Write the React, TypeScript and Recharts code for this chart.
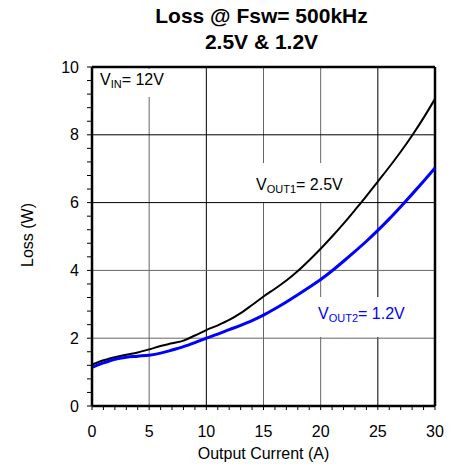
import { LineChart, Line, XAxis, YAxis, ReferenceLine } from "recharts";

// Output current (A)
const current = [
  0, 1, 2, 3, 4, 5, 6, 7, 8, 9, 10, 11, 12, 13, 14, 15, 16, 17, 18, 19, 20,
  21, 22, 23, 24, 25, 26, 27, 28, 29, 30,
];
// Loss (W), Vout1 = 2.5V
const lossVout1 = [
  1.22, 1.35, 1.44, 1.51, 1.58, 1.67, 1.77, 1.85, 1.93, 2.08, 2.24, 2.38, 2.54,
  2.74, 2.98, 3.23, 3.46, 3.7, 3.98, 4.3, 4.64, 5.0, 5.38, 5.78, 6.19, 6.62,
  7.05, 7.5, 7.98, 8.5, 9.06,
];
// Loss (W), Vout2 = 1.2V
const lossVout2 = [
  1.14, 1.27, 1.38, 1.44, 1.47, 1.5, 1.56, 1.65, 1.75, 1.87, 2.0, 2.12, 2.25,
  2.38, 2.52, 2.68, 2.87, 3.07, 3.28, 3.5, 3.73, 3.99, 4.27, 4.56, 4.86, 5.18,
  5.52, 5.88, 6.25, 6.63, 7.02,
];

const xTicks = [
  0, 1, 2, 3, 4, 5, 6, 7, 8, 9, 10, 11, 12, 13, 14, 15, 16, 17, 18, 19, 20,
  21, 22, 23, 24, 25, 26, 27, 28, 29, 30,
];
const xLabels = [0, 5, 10, 15, 20, 25, 30];
const yTicks = [
  0, 0.4, 0.8, 1.2, 1.6, 2, 2.4, 2.8, 3.2, 3.6, 4, 4.4, 4.8, 5.2, 5.6, 6, 6.4,
  6.8, 7.2, 7.6, 8, 8.4, 8.8, 9.2, 9.6, 10,
];
const yLabels = [0, 2, 4, 6, 8, 10];
const xGrid = [5, 10, 15, 20, 25];
const xGridColor = ["#666", "#000", "#666", "#666", "#000"];
const yGrid = [2, 4, 6, 8];
const yGridColor = ["#666", "#666", "#000", "#000"];

const data = current.map((c, i) => ({
  current: c,
  v1: lossVout1[i],
  v2: lossVout2[i],
}));

const FONT = "Arial, 'Liberation Sans', sans-serif";

const YTick = (props: any) => {
  const { x, y, payload } = props;
  const show = yLabels.includes(payload.value);
  return (
    <g>
      <line x1={x - 5} x2={x} y1={y} y2={y} stroke="#000" strokeWidth={1} />
      {show && (
        <text x={x - 13} y={y} dy={5.5} textAnchor="end" fontSize={16} fontFamily={FONT} fill="#000">
          {payload.value}
        </text>
      )}
    </g>
  );
};

const XTick = (props: any) => {
  const { x, y, payload } = props;
  const show = xLabels.includes(payload.value);
  return (
    <g>
      <line x1={x} x2={x} y1={y} y2={y + 4} stroke="#000" strokeWidth={1} />
      {show && (
        <text x={x} y={y} dy={31} textAnchor="middle" fontSize={16} fontFamily={FONT} fill="#000">
          {payload.value}
        </text>
      )}
    </g>
  );
};

export default function App() {
  return (
    <div style={{ position: "absolute", left: 0, top: 0, width: 454, height: 467, background: "#fff", fontFamily: FONT }}>
      <div
        style={{
          position: "absolute",
          left: 90,
          top: 3,
          width: 343,
          textAlign: "center",
          fontWeight: "bold",
          fontSize: 21,
          lineHeight: "26px",
          color: "#000",
        }}
      >
        Loss @ Fsw= 500kHz
        <br />
        2.5V &amp; 1.2V
      </div>
      <LineChart
        width={454}
        height={467}
        data={data}
        margin={{ top: 67, right: 19, bottom: 0, left: 52 }}
        style={{ position: "absolute", left: 0, top: 0 }}
      >
        <XAxis
          dataKey="current"
          type="number"
          domain={[0, 30]}
          ticks={xTicks}
          interval={0}
          height={61}
          tickLine={false}
          tickSize={0}
          tickMargin={0}
          tick={XTick}
          axisLine={{ stroke: "#000", strokeWidth: 2.5 }}
        />
        <YAxis
          type="number"
          domain={[0, 10]}
          ticks={yTicks}
          interval={0}
          width={40}
          tickLine={false}
          tickSize={0}
          tickMargin={0}
          tick={YTick}
          axisLine={{ stroke: "#000", strokeWidth: 2.5 }}
        />
        {xGrid.map((g, i) => (
          <ReferenceLine key={"x" + g} x={g} stroke={xGridColor[i]} strokeWidth={1} />
        ))}
        {yGrid.map((g, i) => (
          <ReferenceLine key={"y" + g} y={g} stroke={yGridColor[i]} strokeWidth={1} />
        ))}
        <ReferenceLine y={10} stroke="#000" strokeWidth={2.5} />
        <ReferenceLine x={30} stroke="#000" strokeWidth={2.5} />
        <Line
          type="monotone"
          dataKey="v1"
          stroke="#000"
          strokeWidth={2}
          dot={false}
          isAnimationActive={false}
        />
        <Line
          type="monotone"
          dataKey="v2"
          stroke="#0000ff"
          strokeWidth={3}
          dot={false}
          isAnimationActive={false}
        />
      </LineChart>
      <svg
        width={454}
        height={467}
        style={{ position: "absolute", left: 0, top: 0, pointerEvents: "none" }}
        fontFamily={FONT}
      >
        <rect x={94} y={69} width={78} height={28} fill="#fff" />
        <text x={100} y={85} fontSize={16} fill="#000">
          V<tspan fontSize={11} dy={3}>IN</tspan>
          <tspan dy={-3}>= 12V</tspan>
        </text>
        <rect x={250} y={163} width={100} height={39} fill="#fff" />
        <text x={256} y={190} fontSize={16} fill="#000">
          V<tspan fontSize={11} dy={3}>OUT1</tspan>
          <tspan dy={-3}>= 2.5V</tspan>
        </text>
        <rect x={312} y={297} width={100} height={40} fill="#fff" />
        <text x={318} y={319} fontSize={16} fill="#0000ff">
          V<tspan fontSize={11} dy={3}>OUT2</tspan>
          <tspan dy={-3}>= 1.2V</tspan>
        </text>
        <text x={263.5} y={459} fontSize={16} textAnchor="middle" fill="#000">
          Output Current (A)
        </text>
        <text
          x={33}
          y={235}
          fontSize={16}
          textAnchor="middle"
          fill="#000"
          transform="rotate(-90 33 235)"
        >
          Loss (W)
        </text>
      </svg>
    </div>
  );
}
